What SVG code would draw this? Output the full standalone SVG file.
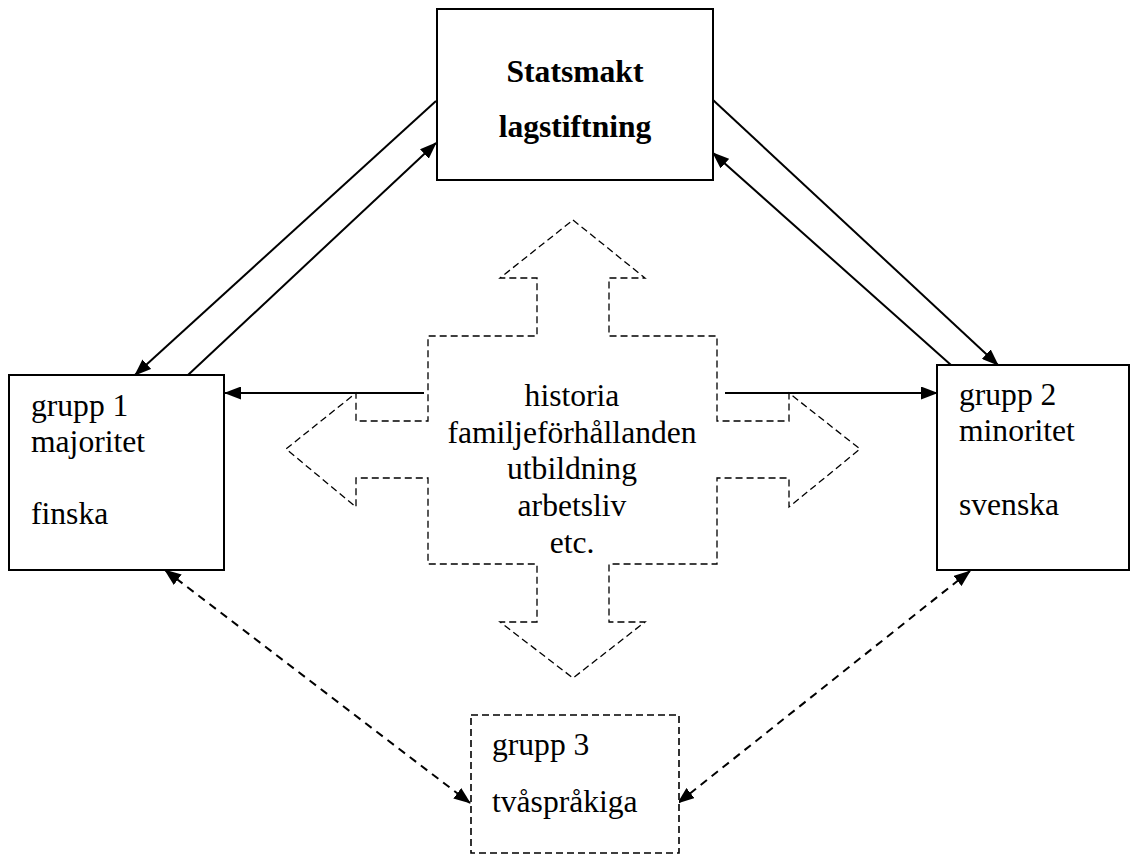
<svg xmlns="http://www.w3.org/2000/svg" width="1134" height="854" viewBox="0 0 1134 854">
<style>
.box{fill:#fff;stroke:#000;stroke-width:2}
.dbox{fill:#fff;stroke:#000;stroke-width:1.6;stroke-dasharray:7,4}
.t{font-family:"Liberation Serif","Times New Roman",serif;font-size:31.6px;fill:#000}
.b{font-weight:bold}
.c{text-anchor:middle}
.con{stroke:#000;stroke-width:2;fill:none}
.dash{stroke-dasharray:8,6}
.cross{fill:none;stroke:#000;stroke-width:1.3;stroke-dasharray:7,4}
</style>
<defs>
<marker id="ah" markerUnits="userSpaceOnUse" markerWidth="17" markerHeight="13" refX="16" refY="6.5" orient="auto-start-reverse" viewBox="0 0 17 13">
<path d="M0,0 L17,6.5 L0,13 z" fill="#000"/>
</marker>
</defs>
<rect width="1134" height="854" fill="#fff"/>

<g id="connectors">
<line class="con" x1="436" y1="101" x2="135" y2="375" marker-end="url(#ah)"/>
<line class="con" x1="188" y1="375" x2="436" y2="143" marker-end="url(#ah)"/>
<line class="con" x1="713" y1="100" x2="998" y2="365" marker-end="url(#ah)"/>
<line class="con" x1="951" y1="365" x2="713" y2="153" marker-end="url(#ah)"/>
<line class="con" x1="424" y1="393" x2="225" y2="393" marker-end="url(#ah)"/>
<line class="con" x1="725" y1="393" x2="937" y2="393" marker-end="url(#ah)"/>
<line class="con dash" x1="165" y1="570" x2="470" y2="803" marker-start="url(#ah)" marker-end="url(#ah)"/>
<line class="con dash" x1="970" y1="571" x2="678" y2="803" marker-start="url(#ah)" marker-end="url(#ah)"/>
</g>

<g id="statsmakt">
<rect class="box" x="437" y="9" width="276" height="171"/>
<text class="t b c" x="575" y="82">Statsmakt</text>
<text class="t b c" x="575" y="137">lagstiftning</text>
</g>

<g id="grupp1">
<rect class="box" x="9" y="375" width="215" height="195"/>
<text class="t" x="31" y="416">grupp 1</text>
<text class="t" x="31" y="452">majoritet</text>
<text class="t" x="31" y="524">finska</text>
</g>

<g id="grupp2">
<rect class="box" x="937" y="365" width="192" height="205"/>
<text class="t" x="959" y="405">grupp 2</text>
<text class="t" x="959" y="441">minoritet</text>
<text class="t" x="959" y="515">svenska</text>
</g>

<g id="grupp3">
<rect class="dbox" x="471" y="715" width="208" height="138"/>
<text class="t" x="492" y="755">grupp 3</text>
<text class="t" x="492" y="812">tvåspråkiga</text>
</g>

<g id="faktorer">
<polygon class="cross" points="573,220 645,278 609,278 609,336 717,336 717,421 789,421 789,393 860,449 789,507 789,478 717,478 717,564 609,564 609,622 645,622 573,678 500,622 537,622 537,564 428,564 428,478 356,478 356,507 286,449 356,393 356,421 428,421 428,336 537,336 537,278 500,278"/>
<text class="t c" x="572" y="406">historia</text>
<text class="t c" x="572" y="443">familjeförhållanden</text>
<text class="t c" x="572" y="479">utbildning</text>
<text class="t c" x="572" y="516">arbetsliv</text>
<text class="t c" x="572" y="553">etc.</text>
</g>
</svg>
